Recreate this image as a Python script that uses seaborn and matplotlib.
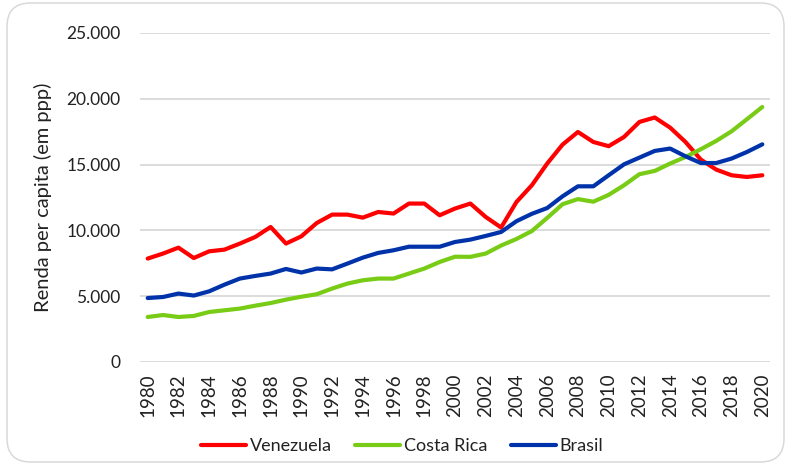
import numpy as np
import pandas as pd
import matplotlib
matplotlib.use("Agg")
import matplotlib.pyplot as plt
from matplotlib.patches import FancyBboxPatch
from matplotlib.ticker import FuncFormatter
import seaborn as sns

years = list(range(1980, 2021))
venezuela = [7860, 8240, 8690, 7900, 8410, 8540, 9000, 9500, 10260, 9000,
             9550, 10560, 11200, 11200, 10970, 11400, 11280, 12040, 12040, 11150,
             11660, 12040, 11020, 10220, 12160, 13430, 15080, 16520, 17480, 16720,
             16400, 17100, 18240, 18580, 17810, 16720, 15380, 14620, 14190, 14060,
             14190]
costa_rica = [3420, 3570, 3420, 3500, 3800, 3930, 4060, 4280, 4480, 4740,
              4960, 5150, 5580, 5960, 6210, 6340, 6340, 6720, 7100, 7600,
              8000, 7990, 8240, 8850, 9350, 9950, 10950, 11990, 12380, 12180,
              12700, 13430, 14270, 14520, 15080, 15580, 16170, 16800, 17530, 18450,
              19380]
brasil = [4860, 4940, 5200, 5050, 5370, 5880, 6340, 6540, 6720, 7070,
          6800, 7100, 7040, 7480, 7930, 8290, 8490, 8760, 8760, 8760,
          9120, 9300, 9580, 9880, 10700, 11260, 11700, 12590, 13350, 13350,
          14190, 15020, 15530, 16040, 16220, 15630, 15120, 15120, 15460, 15960,
          16540]
series_names = ["Venezuela", "Costa Rica", "Brasil"]
colors = {"Venezuela": "#FF0000", "Costa Rica": "#78CC16", "Brasil": "#0033AA"}
y_ticks = [0, 5000, 10000, 15000, 20000, 25000]
x_ticks = list(range(1980, 2021, 2))

df = pd.concat([
    pd.DataFrame({"Ano": years, "Valor": venezuela, "País": "Venezuela"}),
    pd.DataFrame({"Ano": years, "Valor": costa_rica, "País": "Costa Rica"}),
    pd.DataFrame({"Ano": years, "Valor": brasil, "País": "Brasil"}),
])

sns.set_style("white")
plt.rcParams["font.family"] = ["Lato", "DejaVu Sans"]

fig = plt.figure(figsize=(7.86, 4.72), dpi=100)
ax = fig.add_axes([140/786, 1-362/472, 630/786, 329/472])

# rounded border
border = FancyBboxPatch((7/786, 10/472), 777/786, 459/472,
                        boxstyle="round,pad=0,rounding_size=0.03",
                        transform=fig.transFigure, facecolor="none",
                        edgecolor="#D9D9D9", linewidth=1.1, zorder=0,
                        mutation_aspect=786/472)
fig.patches.append(border)

sns.lineplot(data=df, x="Ano", y="Valor", hue="País", hue_order=series_names,
             palette=colors, linewidth=3.0, ax=ax, legend=True, zorder=3)

ax.set_xlim(1979.5, 2020.5)
ax.set_ylim(0, 25000)
ax.set_yticks(y_ticks)
ax.set_xticks(x_ticks)
ax.yaxis.set_major_formatter(FuncFormatter(lambda v, p: f"{int(v):,}".replace(",", ".")))
ax.set_xticklabels([str(x) for x in x_ticks], rotation=90)
ax.tick_params(axis="y", labelsize=12.5, colors="#222222", length=0, pad=14)
ax.tick_params(axis="x", labelsize=13.5, colors="#222222", length=0, pad=8)
ax.grid(axis="y", color="#D9D9D9", linewidth=1.3)
ax.grid(axis="x", visible=False)
for s in ax.spines.values():
    s.set_visible(False)
ax.set_xlabel("")
ax.set_ylabel("Renda per capita (em ppp)", fontsize=14.5, color="#222222", labelpad=10)

handles, labels = ax.get_legend_handles_labels()
ax.legend_.remove()
fig.legend(handles, labels, loc="center", bbox_to_anchor=(402/786, 1-446/472),
           ncol=3, frameon=False, fontsize=13, handlelength=2.5,
           handletextpad=0.2, columnspacing=1.3, labelcolor="#222222")

fig.savefig("out.png", dpi=100, facecolor="white")
